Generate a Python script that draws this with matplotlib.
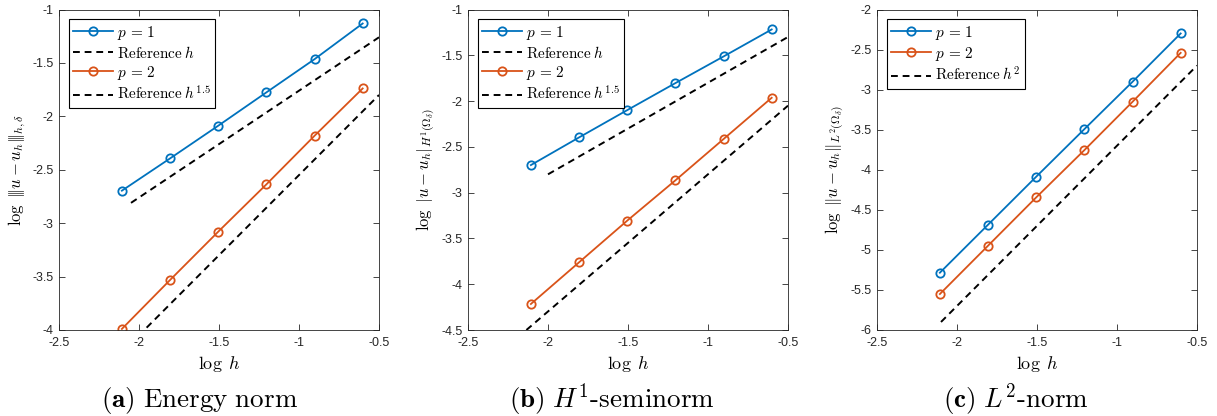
import matplotlib
matplotlib.use("Agg")
import matplotlib.pyplot as plt

plt.rcParams['mathtext.fontset'] = 'cm'
plt.rcParams['font.family'] = 'Liberation Sans'

# log h for h = 1/4 ... 1/128
log_h = [-2.107, -1.806, -1.505, -1.204, -0.903, -0.602]

# (a) energy norm
energy_p1 = [-2.696, -2.394, -2.088, -1.776, -1.465, -1.131]
energy_p2 = [-3.99, -3.532, -3.080, -2.637, -2.182, -1.739]
energy_ref1_x = [-2.05, -0.5]
energy_ref1_y = [-2.81, -1.26]
energy_ref15_x = [-2.107, -0.5]
energy_ref15_y = [-4.21, -1.80]

# (b) H1 seminorm
h1_p1 = [-2.699, -2.397, -2.099, -1.804, -1.513, -1.218]
h1_p2 = [-4.216, -3.761, -3.306, -2.866, -2.415, -1.964]
h1_ref1_x = [-2.0, -0.5]
h1_ref1_y = [-2.80, -1.30]
h1_ref15_x = [-2.135, -0.5]
h1_ref15_y = [-4.50, -2.05]

# (c) L2 norm
l2_p1 = [-5.285, -4.686, -4.087, -3.493, -2.902, -2.299]
l2_p2 = [-5.551, -4.948, -4.345, -3.755, -3.152, -2.541]
l2_ref2_x = [-2.1, -0.5]
l2_ref2_y = [-5.90, -2.70]

blue = '#0072BD'
orange = '#D95319'

fig = plt.figure(figsize=(12.17, 4.16), dpi=100)
W, H = 1217, 416
lefts = [59, 468, 877]
axs = [fig.add_axes([l / W, 86 / H, 320 / W, 320.5 / H]) for l in lefts]

def style(ax, ylim, yticks, ylabel):
    ax.set_xlim(-2.5, -0.5)
    ax.set_ylim(*ylim)
    ax.set_xticks([-2.5, -2, -1.5, -1, -0.5])
    ax.set_xticklabels(['-2.5', '-2', '-1.5', '-1', '-0.5'])
    ax.set_yticks(yticks)
    ax.set_yticklabels(['%g' % t for t in yticks])
    ax.tick_params(direction='in', top=True, right=True, labelsize=9,
                   length=4, width=0.6, color='#262626', labelcolor='#262626')
    ax.tick_params(axis='x', pad=5)
    ax.tick_params(axis='y', pad=4)
    for s in ax.spines.values():
        s.set_linewidth(0.6)
        s.set_color('#262626')
    ax.set_xlabel(r'$\log\ h$', fontsize=13, labelpad=4)
    ax.set_ylabel(ylabel, fontsize=12, labelpad=3)

def legend(ax):
    leg = ax.legend(loc='upper left', bbox_to_anchor=(0.03, 0.97), borderaxespad=0,
                    numpoints=1, handlelength=2.6, handletextpad=0.25,
                    labelspacing=0.2, fontsize=11, fancybox=False,
                    edgecolor='black', framealpha=1, borderpad=0.3)
    leg.get_frame().set_linewidth(0.8)

mk = dict(marker='o', markersize=6, markerfacecolor='none', markeredgewidth=1.3, linewidth=1.3)
ref = dict(color='black', linestyle='--', linewidth=1.4, dashes=(3.5, 2.5))

ax = axs[0]
ax.plot(log_h, energy_p1, color=blue, label=r'$p\,=\,1$', **mk)
ax.plot(energy_ref1_x, energy_ref1_y, label=r'$\mathrm{Reference}\;h$', **ref)
ax.plot(log_h, energy_p2, color=orange, label=r'$p\,=\,2$', **mk)
ax.plot(energy_ref15_x, energy_ref15_y, label=r'$\mathrm{Reference}\;h^{1.5}$', **ref)
style(ax, (-4, -1), [-4, -3.5, -3, -2.5, -2, -1.5, -1],
      r'$\log\ |\!|\!|u-u_h|\!|\!|_{h,\delta}$')
legend(ax)

ax = axs[1]
ax.plot(log_h, h1_p1, color=blue, label=r'$p\,=\,1$', **mk)
ax.plot(h1_ref1_x, h1_ref1_y, label=r'$\mathrm{Reference}\;h$', **ref)
ax.plot(log_h, h1_p2, color=orange, label=r'$p\,=\,2$', **mk)
ax.plot(h1_ref15_x, h1_ref15_y, label=r'$\mathrm{Reference}\;h^{1.5}$', **ref)
style(ax, (-4.5, -1), [-4.5, -4, -3.5, -3, -2.5, -2, -1.5, -1],
      r'$\log\ |u-u_h|_{H^1(\Omega_\delta)}$')
legend(ax)

ax = axs[2]
ax.plot(log_h, l2_p1, color=blue, label=r'$p\,=\,1$', **mk)
ax.plot(log_h, l2_p2, color=orange, label=r'$p\,=\,2$', **mk)
ax.plot(l2_ref2_x, l2_ref2_y, label=r'$\mathrm{Reference}\;h^{2}$', **ref)
style(ax, (-6, -2), [-6, -5.5, -5, -4.5, -4, -3.5, -3, -2.5, -2],
      r'$\log\ \|u-u_h\|_{L^2(\Omega_\delta)}$')
legend(ax)

captions = [r'$\mathbf{(a)}\ \mathrm{Energy\ norm}$',
            r'$\mathbf{(b)}\ H^1\mathrm{\text{-}seminorm}$',
            r'$\mathbf{(c)}\ L^2\mathrm{\text{-}norm}$']
centers = [200, 612, 1016]
for c, t in zip(centers, captions):
    fig.text(c / W, 1 - 400 / H, t, ha='center', va='center', fontsize=19.5)

fig.savefig('out.png', dpi=100)
